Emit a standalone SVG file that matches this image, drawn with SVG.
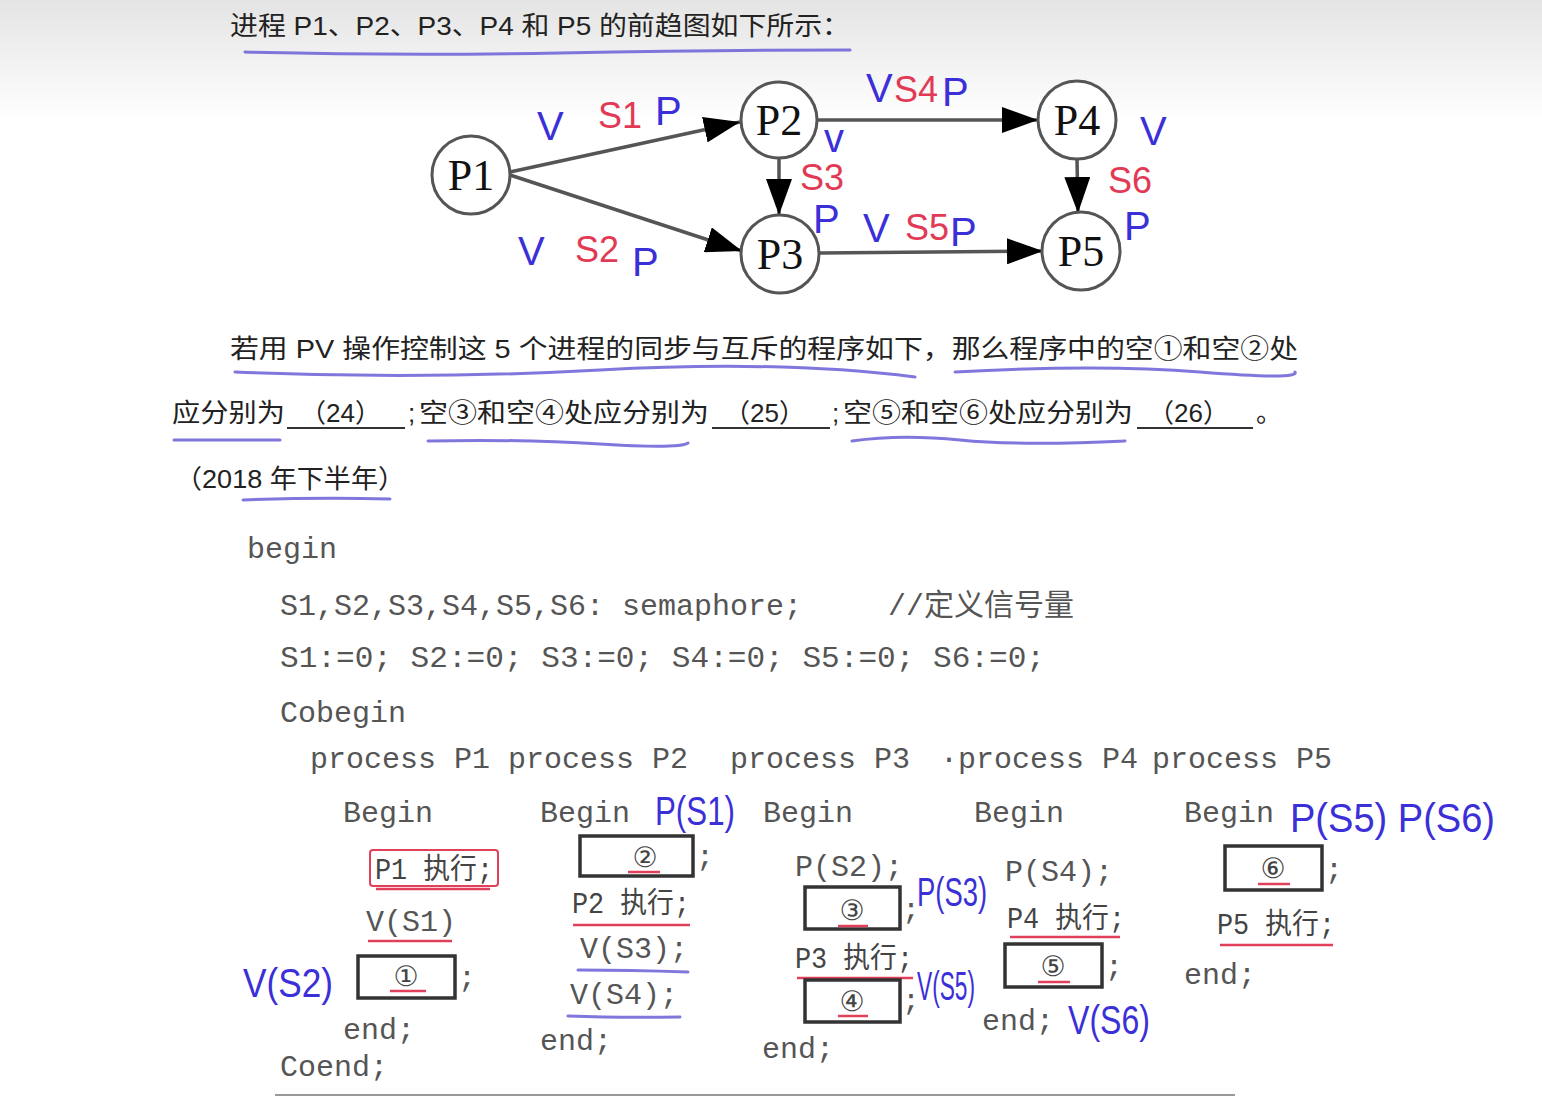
<svg xmlns="http://www.w3.org/2000/svg" width="1542" height="1097" viewBox="0 0 1542 1097">
<defs>
<linearGradient id="bg" x1="0" y1="0" x2="0" y2="1">
<stop offset="0" stop-color="#e4e4e4"/>
<stop offset="1" stop-color="#ffffff"/>
</linearGradient>
<marker id="arr" markerUnits="userSpaceOnUse" markerWidth="38" markerHeight="26" refX="36" refY="13" orient="auto">
<path d="M0,0 L36,13 L0,26 Z" fill="#000"/>
</marker>
<style>
.cn{font-family:"Liberation Sans","Noto Sans CJK SC",sans-serif;font-size:26px;fill:#222}
.node circle{fill:#fff;stroke:#555;stroke-width:3}
.node text{font-family:"Liberation Serif",serif;font-size:44px;fill:#111;text-anchor:middle}
.edge{stroke:#555;stroke-width:3.5;fill:none;marker-end:url(#arr)}
.code{font-family:"Liberation Mono","Noto Sans CJK SC",monospace;font-size:30px;fill:#555}
.cj{font-family:"Liberation Mono","Noto Sans CJK SC",monospace;font-size:29px;fill:#444}
.box{fill:#fff;stroke:#333;stroke-width:3.5}
.num{font-family:"DejaVu Sans","Noto Sans CJK SC",sans-serif;font-size:28px;fill:#444;text-anchor:middle}
.hb{font-family:"Liberation Sans",sans-serif;font-size:40px;fill:#3b2fd8}
.hr{font-family:"Liberation Sans",sans-serif;font-size:36px;fill:#e23a55}
.ub{stroke:#6a5fd6;stroke-width:3;fill:none;stroke-linecap:round;opacity:0.85}
.ur{stroke:#e0405a;stroke-width:2.5;fill:none}
</style>
</defs>
<rect x="0" y="0" width="1542" height="1097" fill="#fff"/>
<rect x="0" y="0" width="1542" height="120" fill="url(#bg)"/>

<text class="cn" x="230" y="35" textLength="620" lengthAdjust="spacingAndGlyphs">进程 P1、P2、P3、P4 和 P5 的前趋图如下所示：</text>
<path class="ub" d="M245,52 Q400,56 560,53 T850,50"/>

<g id="connectors">
<line class="edge" x1="510" y1="172" x2="740" y2="122"/>
<line class="edge" x1="510" y1="175" x2="742" y2="251"/>
<line class="edge" x1="818" y1="120" x2="1038" y2="120"/>
<line class="edge" x1="779" y1="158" x2="779" y2="215"/>
<line class="edge" x1="820" y1="253" x2="1043" y2="251"/>
<line class="edge" x1="1077" y1="159" x2="1078" y2="213"/>
</g>
<g id="P1" class="node"><circle cx="471" cy="175" r="39"/><text x="471" y="190">P1</text></g>
<g id="P2" class="node"><circle cx="779" cy="120" r="38"/><text x="779" y="135">P2</text></g>
<g id="P3" class="node"><circle cx="780" cy="254" r="39"/><text x="780" y="269">P3</text></g>
<g id="P4" class="node"><circle cx="1077" cy="120" r="39"/><text x="1077" y="135">P4</text></g>
<g id="P5" class="node"><circle cx="1081" cy="251" r="39"/><text x="1081" y="266">P5</text></g>

<g id="edge-notes">
<text class="hb" x="537" y="140">V</text><text class="hr" x="598" y="128">S1</text><text class="hb" x="655" y="125">P</text>
<text class="hb" x="518" y="265">V</text><text class="hr" x="575" y="262">S2</text><text class="hb" x="632" y="276">P</text>
<text class="hb" x="866" y="102">V</text><text class="hr" x="894" y="102">S4</text><text class="hb" x="942" y="106">P</text>
<text class="hb" x="824" y="152" font-size="26">v</text><text class="hr" x="800" y="190" font-size="28">S3</text><text class="hb" x="813" y="233" font-size="34">P</text>
<text class="hb" x="1140" y="145">V</text><text class="hr" x="1108" y="193" font-size="34">S6</text><text class="hb" x="1124" y="240" font-size="38">P</text>
<text class="hb" x="863" y="242" font-size="36">V</text><text class="hr" x="905" y="240" font-size="32">S5</text><text class="hb" x="950" y="246">P</text>
</g>

<text class="cn" x="230" y="358" textLength="1068" lengthAdjust="spacingAndGlyphs">若用 PV 操作控制这 5 个进程的同步与互斥的程序如下，那么程序中的空①和空②处</text>
<path class="ub" d="M235,372 Q420,380 600,370 T915,377"/>
<path class="ub" d="M955,372 Q1100,364 1200,372 T1295,372"/>

<g class="cn">
<text x="172" y="422" textLength="113" lengthAdjust="spacingAndGlyphs">应分别为</text>
<text x="300" y="422">（24）</text>
<text x="408" y="422">;</text>
<text x="419" y="422" textLength="290" lengthAdjust="spacingAndGlyphs">空③和空④处应分别为</text>
<text x="724" y="422">（25）</text>
<text x="832" y="422">;</text>
<text x="843" y="422" textLength="290" lengthAdjust="spacingAndGlyphs">空⑤和空⑥处应分别为</text>
<text x="1148" y="422">（26）</text>
<text x="1256" y="422">。</text>
<text x="175" y="488" textLength="230" lengthAdjust="spacingAndGlyphs">（2018 年下半年）</text>
</g>
<g stroke="#333" stroke-width="2">
<line x1="287" y1="428" x2="405" y2="428"/>
<line x1="712" y1="428" x2="830" y2="428"/>
<line x1="1137" y1="428" x2="1253" y2="428"/>
</g>
<path class="ub" d="M174,440 L280,440"/>
<path class="ub" d="M428,441 Q520,439 600,444 T688,443"/>
<path class="ub" d="M852,441 Q900,434 960,440 T1125,441"/>
<path class="ub" d="M243,500 Q320,497 390,499"/>

<g id="code">
<text class="code" x="247" y="558">begin</text>
<text class="code" x="280" y="615">S1,S2,S3,S4,S5,S6: semaphore;</text>
<text class="code" x="888" y="615">//定义信号量</text>
<text class="code" x="280" y="667" textLength="765" lengthAdjust="spacingAndGlyphs">S1:=0; S2:=0; S3:=0; S4:=0; S5:=0; S6:=0;</text>
<text class="code" x="280" y="722">Cobegin</text>
<text class="code" x="310" y="768">process P1</text>
<text class="code" x="508" y="768">process P2</text>
<text class="code" x="730" y="768">process P3</text>
<text class="code" x="940" y="768">·process P4</text>
<text class="code" x="1152" y="768">process P5</text>
<text class="code" x="343" y="822">Begin</text>
<text class="code" x="540" y="822">Begin</text>
<text class="code" x="763" y="822">Begin</text>
<text class="code" x="974" y="822">Begin</text>
<text class="code" x="1184" y="822">Begin</text>
</g>

<g id="proc-P1">
<rect x="370" y="850" width="128" height="36" rx="3" fill="none" stroke="#e0405a" stroke-width="2"/>
<text class="cj" x="375" y="879" textLength="118" lengthAdjust="spacingAndGlyphs">P1 执行;</text>
<path class="ur" d="M376,889 L490,889"/>
<text class="code" x="366" y="931">V(S1)</text>
<path class="ur" d="M368,941 L452,941"/>
<rect class="box" x="358" y="956" width="97" height="42"/>
<text class="num" x="406" y="986">①</text>
<path class="ur" d="M390,991 L426,991"/>
<text class="code" x="458" y="987">;</text>
<text class="hb" x="243" y="997" textLength="90" lengthAdjust="spacingAndGlyphs">V(S2)</text>
<text class="code" x="343" y="1039">end;</text>
<text class="code" x="280" y="1076">Coend;</text>
</g>

<g id="proc-P2">
<text class="hb" x="655" y="825" textLength="80" lengthAdjust="spacingAndGlyphs">P(S1)</text>
<rect class="box" x="580" y="836" width="113" height="40"/>
<text class="num" x="645" y="867">②</text>
<path class="ur" d="M628,872 L660,872"/>
<text class="code" x="696" y="866">;</text>
<text class="cj" x="572" y="913" textLength="118" lengthAdjust="spacingAndGlyphs">P2 执行;</text>
<path class="ur" d="M573,925 L690,925"/>
<text class="code" x="580" y="958">V(S3);</text>
<path class="ub" d="M578,970 Q630,970 688,972"/>
<text class="code" x="570" y="1004">V(S4);</text>
<path class="ub" d="M568,1016 Q620,1018 680,1017"/>
<text class="code" x="540" y="1050">end;</text>
</g>

<g id="proc-P3">
<text class="code" x="795" y="876">P(S2);</text>
<rect class="box" x="805" y="887" width="95" height="42"/>
<text class="num" x="852" y="920">③</text>
<path class="ur" d="M838,926 L868,926"/>
<text class="code" x="902" y="919">;</text>
<text class="hb" x="917" y="906" font-size="36" textLength="70" lengthAdjust="spacingAndGlyphs">P(S3)</text>
<text class="cj" x="795" y="968" textLength="118" lengthAdjust="spacingAndGlyphs">P3 执行;</text>
<path class="ur" d="M797,978 L913,978"/>
<rect class="box" x="805" y="980" width="95" height="42"/>
<text class="num" x="852" y="1011">④</text>
<path class="ur" d="M838,1016 L868,1016"/>
<text class="code" x="902" y="1010">;</text>
<text class="hb" x="917" y="1000" font-size="30" textLength="58" lengthAdjust="spacingAndGlyphs">V(S5)</text>
<text class="code" x="762" y="1058">end;</text>
</g>

<g id="proc-P4">
<text class="code" x="1005" y="881">P(S4);</text>
<text class="cj" x="1007" y="928" textLength="118" lengthAdjust="spacingAndGlyphs">P4 执行;</text>
<path class="ur" d="M1010,937 L1120,937"/>
<rect class="box" x="1005" y="944" width="97" height="43"/>
<text class="num" x="1053" y="976">⑤</text>
<path class="ur" d="M1038,982 L1070,982"/>
<text class="code" x="1105" y="976">;</text>
<text class="code" x="982" y="1030">end;</text>
<text class="hb" x="1068" y="1034" textLength="82" lengthAdjust="spacingAndGlyphs">V(S6)</text>
</g>

<g id="proc-P5">
<text class="hb" x="1290" y="832" textLength="205" lengthAdjust="spacingAndGlyphs">P(S5) P(S6)</text>
<rect class="box" x="1225" y="846" width="97" height="44"/>
<text class="num" x="1273" y="878">⑥</text>
<path class="ur" d="M1258,884 L1290,884"/>
<text class="code" x="1325" y="879">;</text>
<text class="cj" x="1217" y="934" textLength="118" lengthAdjust="spacingAndGlyphs">P5 执行;</text>
<path class="ur" d="M1220,945 L1333,945"/>
<text class="code" x="1184" y="984">end;</text>
</g>

<line x1="275" y1="1095" x2="1235" y2="1095" stroke="#999" stroke-width="2"/>
</svg>
